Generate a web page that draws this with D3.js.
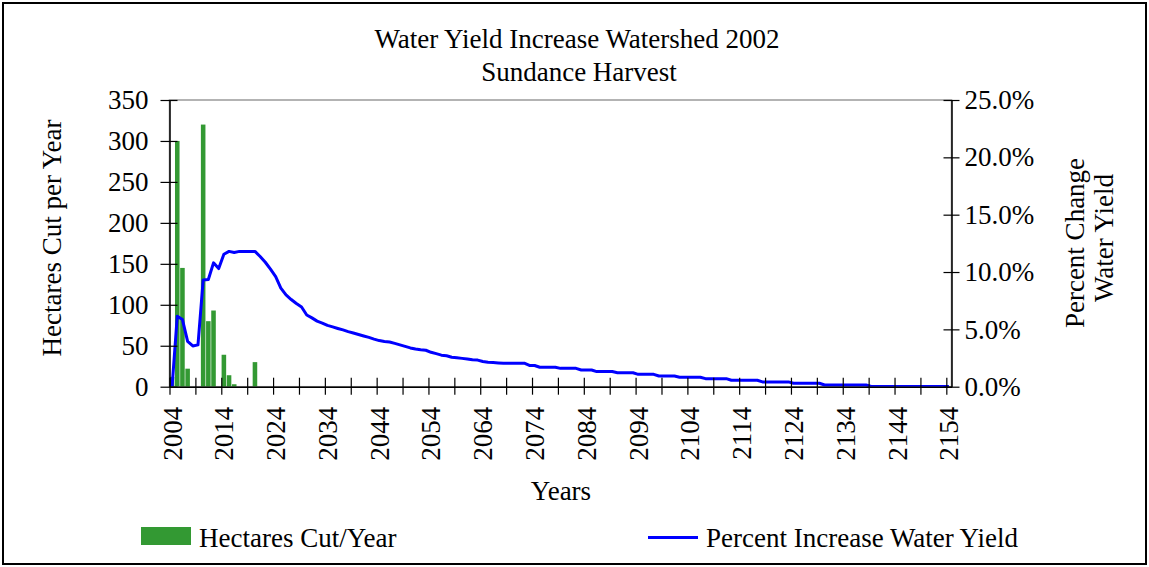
<!DOCTYPE html>
<html>
<head>
<meta charset="utf-8">
<script src="https://cdn.jsdelivr.net/npm/d3@7"></script>
<style>
  body { margin: 0; background: #fff; }
  svg { display: block; }
  text { font-family: "Liberation Serif", "Times New Roman", serif; fill: #000; }
</style>
</head>
<body>
<svg id="chart" width="1149" height="567"></svg>
<script>
// ---- data ----
const firstYear = 2004;
const lastYear = 2154;
const years = d3.range(firstYear, lastYear + 1);

// hectares harvested, only the years with cutting
const harvestYears = [2004, 2005, 2006, 2007, 2010, 2011, 2012, 2014, 2015, 2016, 2020];
const hectaresCut  = [12, 300, 145, 22, 320, 80, 93, 39, 14, 3, 30];

// percent increase in water yield, one value per year 2004..2154
const percentIncrease = [
  0.00, 6.15, 5.85, 3.95, 3.55, 3.65, 9.30, 9.35, 10.80, 10.30,   // 2004-2013
  11.55, 11.80, 11.70, 11.80, 11.80, 11.80, 11.80, 11.35, 10.85, 10.25, // 2014-2023
  9.60, 8.60, 8.00, 7.60, 7.25, 6.95, 6.25, 6.00, 5.72, 5.55,     // 2024-2033
  5.35, 5.22, 5.08, 4.95, 4.80, 4.68, 4.55, 4.42, 4.30, 4.15,     // 2034-2043
  4.02, 3.95, 3.90, 3.78, 3.65, 3.52, 3.38, 3.28, 3.22, 3.18,     // 2044-2053
  3.00, 2.88, 2.75, 2.70, 2.57, 2.52, 2.47, 2.42, 2.35, 2.32,     // 2054-2063
  2.20, 2.13, 2.10, 2.07, 2.05, 2.05, 2.05, 2.05, 2.05, 1.85,     // 2064-2073
  1.85, 1.70, 1.70, 1.70, 1.70, 1.60, 1.60, 1.60, 1.60, 1.46,     // 2074-2083
  1.46, 1.46, 1.32, 1.32, 1.32, 1.32, 1.22, 1.22, 1.22, 1.22,     // 2084-2093
  1.08, 1.08, 1.08, 1.08, 0.93, 0.93, 0.93, 0.93, 0.82, 0.82,     // 2094-2103
  0.82, 0.82, 0.82, 0.70, 0.70, 0.70, 0.70, 0.70, 0.56, 0.56,     // 2104-2113
  0.56, 0.56, 0.56, 0.56, 0.42, 0.42, 0.42, 0.42, 0.42, 0.42,     // 2114-2123
  0.30, 0.30, 0.30, 0.30, 0.30, 0.30, 0.15, 0.15, 0.15, 0.15,     // 2124-2133
  0.15, 0.15, 0.15, 0.15, 0.15, 0.02, 0.02, 0.02, 0.02, 0.02,     // 2134-2143
  0.02, 0.02, 0.02, 0.02, 0.02, 0.02, 0.02, 0.02, 0.02, 0.02,     // 2144-2153
  0.02                                                            // 2154
];

const leftTicks  = [0, 50, 100, 150, 200, 250, 300, 350];
const rightTicks = [0, 5, 10, 15, 20, 25];
const yearLabels = [2004, 2014, 2024, 2034, 2044, 2054, 2064, 2074, 2084, 2094,
                    2104, 2114, 2124, 2134, 2144, 2154];
const yearTickMarks = [2004, 2009, 2014, 2019, 2024, 2029, 2034, 2039, 2044, 2049,
                       2054, 2059, 2064, 2069, 2074, 2079, 2084, 2089, 2094, 2099,
                       2104, 2109, 2114, 2119, 2124, 2129, 2134, 2139, 2144, 2149, 2154];

// ---- layout ----
const svg = d3.select("#chart");
const plot = { left: 169.5, right: 951.5, top: 100, bottom: 386.7 };
const FS = 27;

const x = d3.scaleBand()
  .domain(years)
  .range([plot.left, plot.right])
  .paddingInner(0.12)
  .paddingOuter(0.06);
const xEdge = d3.scaleLinear()
  .domain([firstYear, lastYear + 1])
  .range([plot.left, plot.right]);
const yLeft = d3.scaleLinear().domain([0, 350]).range([plot.bottom, plot.top]);
const yRight = d3.scaleLinear().domain([0, 25]).range([plot.bottom, plot.top]);

// outer frame
svg.append("rect")
  .attr("x", 3).attr("y", 3).attr("width", 1143).attr("height", 561)
  .attr("fill", "#fff").attr("stroke", "#000").attr("stroke-width", 2);

// plot area frame
svg.append("rect")
  .attr("x", plot.left).attr("y", plot.top)
  .attr("width", plot.right - plot.left).attr("height", plot.bottom - plot.top)
  .attr("fill", "none").attr("stroke", "#9a9a9a").attr("stroke-width", 1.5);

svg.append("clipPath").attr("id", "plotClip")
  .append("rect")
  .attr("x", plot.left).attr("y", plot.top - 2)
  .attr("width", plot.right - plot.left).attr("height", plot.bottom - plot.top + 2);

// titles
svg.append("text").attr("x", 577).attr("y", 48).attr("text-anchor", "middle")
  .style("font-size", FS + "px").text("Water Yield Increase Watershed 2002");
svg.append("text").attr("x", 579).attr("y", 81).attr("text-anchor", "middle")
  .style("font-size", FS + "px").text("Sundance Harvest");

// bars
const barData = harvestYears.map((yr, i) => ({ year: yr, value: hectaresCut[i] }));
svg.append("g").attr("clip-path", "url(#plotClip)")
  .selectAll("rect").data(barData).join("rect")
  .attr("x", d => x(d.year))
  .attr("width", x.bandwidth())
  .attr("y", d => yLeft(d.value))
  .attr("height", d => yLeft(0) - yLeft(d.value))
  .attr("fill", "#339933");

// line
const lineData = years.map((yr, i) => ({ year: yr, value: percentIncrease[i] }));
const line = d3.line()
  .x(d => x(d.year) + x.bandwidth() / 2)
  .y(d => yRight(d.value));
svg.append("path")
  .datum(lineData)
  .attr("clip-path", "url(#plotClip)")
  .attr("d", line)
  .attr("fill", "none")
  .attr("stroke", "#0000ff")
  .attr("stroke-width", 3)
  .attr("stroke-linejoin", "round");

// left axis
const gLeft = svg.append("g").attr("transform", `translate(${plot.left},0)`)
  .call(d3.axisLeft(yLeft).tickValues(leftTicks).tickSize(9).tickSizeOuter(0).tickPadding(12));
gLeft.selectAll(".tick line").attr("x1", 8).attr("x2", -9);

// right axis
const gRight = svg.append("g").attr("transform", `translate(${plot.right},0)`)
  .call(d3.axisRight(yRight).tickValues(rightTicks).tickSize(8).tickSizeOuter(0).tickPadding(5)
    .tickFormat(d => d3.format(".1f")(d) + "%"));
gRight.selectAll(".tick line").attr("x1", -8).attr("x2", 8);

// bottom axis: tick marks on year boundaries
const gBottom = svg.append("g").attr("transform", `translate(0,${plot.bottom})`)
  .call(d3.axisBottom(xEdge).tickValues(yearTickMarks).tickSize(8).tickSizeOuter(0).tickFormat(""));
gBottom.selectAll(".tick line").attr("y1", -9).attr("y2", 8);

// bottom axis: rotated year labels centred on each year
const gLabels = svg.append("g").attr("transform", `translate(0,${plot.bottom})`)
  .call(d3.axisBottom(x).tickValues(yearLabels).tickSize(0).tickSizeOuter(0));
gLabels.select(".domain").remove();
gLabels.selectAll(".tick text")
  .attr("transform", "rotate(-90)")
  .attr("x", -20).attr("y", 0).attr("dy", "0.35em")
  .style("text-anchor", "end");

[gLeft, gRight, gBottom].forEach(g => {
  g.select(".domain").attr("stroke", "#000").attr("stroke-width", 1.5);
  g.selectAll(".tick line").attr("stroke", "#000").attr("stroke-width", 1.2);
});
svg.selectAll(".tick text")
  .style("font-family", "'Liberation Serif', 'Times New Roman', serif")
  .style("font-size", FS + "px").attr("fill", "#000");

// axis titles
svg.append("text").attr("transform", "translate(61,238) rotate(-90)")
  .attr("text-anchor", "middle").style("font-size", FS + "px").text("Hectares Cut per Year");
svg.append("text").attr("transform", "translate(1084,243) rotate(-90)")
  .attr("text-anchor", "middle").style("font-size", FS + "px").text("Percent Change");
svg.append("text").attr("transform", "translate(1113,238) rotate(-90)")
  .attr("text-anchor", "middle").style("font-size", FS + "px").text("Water Yield");
svg.append("text").attr("x", 561).attr("y", 500).attr("text-anchor", "middle")
  .style("font-size", FS + "px").text("Years");

// legend
const legend = svg.append("g");
legend.append("rect").attr("x", 141).attr("y", 527).attr("width", 50).attr("height", 18)
  .attr("fill", "#339933");
legend.append("text").attr("x", 199).attr("y", 547).style("font-size", FS + "px")
  .text("Hectares Cut/Year");
legend.append("line").attr("x1", 648).attr("x2", 698).attr("y1", 537.5).attr("y2", 537.5)
  .attr("stroke", "#0000ff").attr("stroke-width", 3);
legend.append("text").attr("x", 706).attr("y", 547).style("font-size", FS + "px")
  .text("Percent Increase Water Yield");
</script>
</body>
</html>
